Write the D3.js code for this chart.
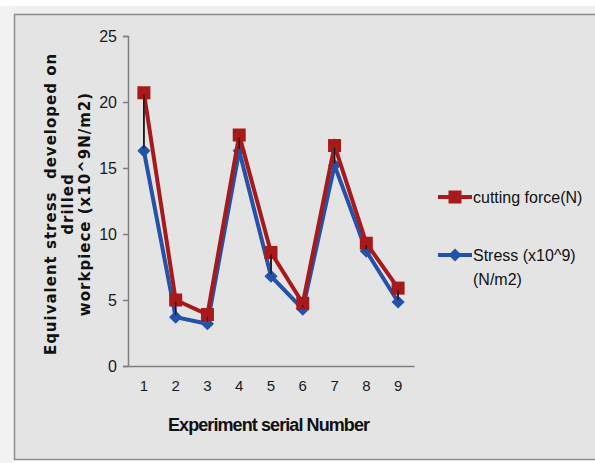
<!DOCTYPE html>
<html>
<head>
<meta charset="utf-8">
<script src="https://cdn.jsdelivr.net/npm/d3@7"></script>
<style>
  body { margin: 0; background: #fff; }
  svg { display: block; }
</style>
</head>
<body>
<script>
var width = 595;
var height = 463;

// data
var experiments = ["1", "2", "3", "4", "5", "6", "7", "8", "9"];
var cuttingForce = [20.7, 5.0, 3.9, 17.5, 8.6, 4.75, 16.7, 9.3, 5.9];
var stress = [16.3, 3.7, 3.2, 16.3, 6.8, 4.3, 15.2, 8.7, 4.85];
var yTicks = [0, 5, 10, 15, 20, 25];

var red = "#a8191c";
var blue = "#2352a8";
var font = "'Liberation Sans Narrow', 'Liberation Sans', sans-serif";

var svg = d3.select("body")
            .append("svg")
            .attr("width", width)
            .attr("height", height);

// frame like the spreadsheet chart area
svg.append("rect")
  .attr("x", 0).attr("y", 6).attr("width", width).attr("height", 8)
  .style("fill", "#efefef");
svg.append("rect")
  .attr("x", 0).attr("y", 6).attr("width", 14).attr("height", height)
  .style("fill", "#f2f2f2");
svg.append("rect")
  .attr("x", 14.5).attr("y", 14.5).attr("width", 600).attr("height", 445)
  .style("fill", "#e4e4e4")
  .style("stroke", "#8c8c8c")
  .style("stroke-width", 1.5);

var x = d3.scaleBand().domain(experiments).range([128, 414]);
var y = d3.scaleLinear().domain([0, 25]).range([366, 36]);

var cx = function(d, i) { return x(experiments[i]) + x.bandwidth() / 2; };

// y axis
var yAxis = svg.append("g")
  .attr("transform", "translate(128,0)")
  .call(d3.axisLeft(y).tickValues(yTicks).tickSize(5).tickPadding(6));
yAxis.select(".domain").style("stroke", "#7f7f7f").style("stroke-width", 1.5);
yAxis.selectAll(".tick line").style("stroke", "#7f7f7f").style("stroke-width", 1.5);
yAxis.selectAll("text")
  .style("font-family", font)
  .style("font-size", "16px")
  .style("fill", "#1a1a1a");

// x axis
var xAxis = svg.append("g")
  .attr("transform", "translate(0,366)")
  .call(d3.axisBottom(x).tickSize(0).tickPadding(14));
xAxis.select(".domain").style("stroke", "#7f7f7f").style("stroke-width", 1.5);
xAxis.selectAll("text")
  .style("font-family", font)
  .style("font-size", "15px")
  .style("fill", "#1a1a1a");

// high-low lines between the two series
svg.append("g").selectAll("line")
  .data(cuttingForce)
  .enter().append("line")
  .attr("x1", cx).attr("x2", cx)
  .attr("y1", function(d) { return y(d); })
  .attr("y2", function(d, i) { return y(stress[i]); })
  .style("stroke", "#111")
  .style("stroke-width", 1.5);

var line = d3.line()
  .x(cx)
  .y(function(d) { return y(d); });

// stress series
svg.append("path")
  .datum(stress)
  .attr("d", line)
  .style("fill", "none")
  .style("stroke", blue)
  .style("stroke-width", 4);
svg.append("g").selectAll("path")
  .data(stress)
  .enter().append("path")
  .attr("d", d3.symbol().type(d3.symbolDiamond2).size(110))
  .attr("transform", function(d, i) { return "translate(" + cx(d, i) + "," + y(d) + ")"; })
  .style("fill", blue);

// cutting force series
svg.append("path")
  .datum(cuttingForce)
  .attr("d", line)
  .style("fill", "none")
  .style("stroke", red)
  .style("stroke-width", 4);
svg.append("g").selectAll("rect")
  .data(cuttingForce)
  .enter().append("rect")
  .attr("x", function(d, i) { return cx(d, i) - 6.5; })
  .attr("y", function(d) { return y(d) - 6.5; })
  .attr("width", 13).attr("height", 13)
  .style("fill", red);

// redraw high-low lines on top where visible
svg.append("g").selectAll("line")
  .data(cuttingForce)
  .enter().append("line")
  .attr("x1", cx).attr("x2", cx)
  .attr("y1", function(d) { return y(d) + 2; })
  .attr("y2", function(d, i) { return y(stress[i]) - 2; })
  .style("stroke", "#111")
  .style("stroke-width", 1.2);

// axis titles
svg.append("text")
  .attr("x", 269).attr("y", 431)
  .attr("text-anchor", "middle")
  .attr("textLength", 202)
  .style("font-family", font)
  .style("font-weight", "bold")
  .style("font-size", "18px")
  .style("fill", "#111")
  .text("Experiment serial Number");

var yTitle = ["Equivalent stress  developed on", "drilled", "workpiece (x10^9N/m2)"];
svg.append("g")
  .attr("transform", "translate(0,204) rotate(-90)")
  .selectAll("text")
  .data(yTitle)
  .enter().append("text")
  .attr("x", 0)
  .attr("y", function(d, i) { return 56 + i * 17; })
  .attr("text-anchor", "middle")
  .attr("xml:space", "preserve")
  .style("font-family", "'DejaVu Sans', sans-serif")
  .style("font-weight", "bold")
  .style("font-size", "15px")
  .style("letter-spacing", "1px")
  .style("fill", "#111")
  .text(function(d) { return d; });

// legend
var legend = svg.append("g").attr("transform", "translate(438,0)");
legend.append("line")
  .attr("x1", 0).attr("x2", 34).attr("y1", 197).attr("y2", 197)
  .style("stroke", red).style("stroke-width", 4);
legend.append("rect")
  .attr("x", 10.5).attr("y", 190.5).attr("width", 13).attr("height", 13)
  .style("fill", red);
legend.append("line")
  .attr("x1", 0).attr("x2", 34).attr("y1", 255).attr("y2", 255)
  .style("stroke", blue).style("stroke-width", 4);
legend.append("path")
  .attr("d", d3.symbol().type(d3.symbolDiamond2).size(110))
  .attr("transform", "translate(17,255)")
  .style("fill", blue);

var legendText = [["cutting force(N)", 203], ["Stress (x10^9)", 261], ["(N/m2)", 285]];
legend.selectAll("text")
  .data(legendText)
  .enter().append("text")
  .attr("x", 35)
  .attr("y", function(d) { return d[1]; })
  .style("font-family", font)
  .style("font-size", "16px")
  .style("fill", "#111")
  .text(function(d) { return d[0]; });
</script>
</body>
</html>
